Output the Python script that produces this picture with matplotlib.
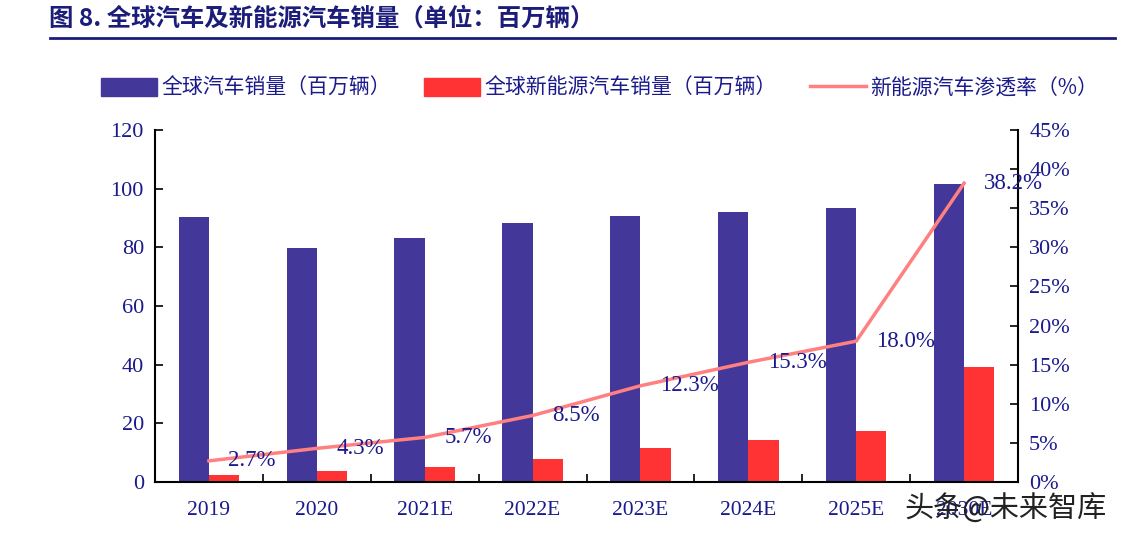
import matplotlib.pyplot as plt
from matplotlib.patches import Patch
from matplotlib.lines import Line2D

plt.rcParams['font.family'] = ['Liberation Serif', 'Noto Sans CJK SC', 'DejaVu Sans']

years = ["2019", "2020", "2021E", "2022E", "2023E", "2024E", "2025E", "2030E"]
total_sales = [90.3, 79.8, 83.2, 88.3, 90.7, 92.0, 93.4, 101.6]
nev_sales = [2.5, 3.7, 5.1, 7.8, 11.6, 14.3, 17.4, 39.2]
nev_rate = [2.7, 4.3, 5.7, 8.5, 12.3, 15.3, 18.0, 38.2]

BLUE = "#43379A"
RED = "#FF3333"
PINK = "#FF8080"
NAVY = "#1A1A8C"
CJK = ['Noto Sans CJK SC', 'DejaVu Sans']

fig = plt.figure(figsize=(11.29, 5.38), dpi=100)
ax = fig.add_axes([0.1373, 0.1041, 0.7644, 0.6543])
ax2 = ax.twinx()

x = list(range(len(years)))
w = 0.28
ax.bar([i - w / 2 for i in x], total_sales, width=w, color=BLUE, zorder=2)
ax.bar([i + w / 2 for i in x], nev_sales, width=w, color=RED, zorder=2)
ax2.plot(x, nev_rate, color=PINK, linewidth=2.5, zorder=3)
for i, v in zip(x, nev_rate):
    ax2.annotate(f"{v:.1f}%", (i, v), xytext=(14, 0), textcoords="offset points",
                 ha="left", va="center", fontsize=16.5, color=NAVY)

ax.set_xlim(-0.5, len(years) - 0.5)
ax.set_ylim(0, 120)
ax.set_yticks(range(0, 121, 20))
ax2.set_ylim(0, 45)
ax2.set_yticks(range(0, 46, 5))
ax2.set_yticklabels([f"{v}%" for v in range(0, 46, 5)])

ax.set_xticks(x)
ax.set_xticklabels(years)
ax.set_xticks([i + 0.5 for i in x[:-1]], minor=True)
ax.tick_params(axis="x", which="major", length=0, pad=14, labelsize=15.5, labelcolor=NAVY)
ax.tick_params(axis="x", which="minor", direction="in", length=6, width=1.2)
ax.tick_params(axis="y", direction="in", length=6, width=1.2, labelsize=16, labelcolor=NAVY, pad=8)
ax2.tick_params(axis="y", direction="in", length=6, width=1.2, labelsize=16, labelcolor=NAVY, pad=8)

for a in (ax, ax2):
    a.spines["top"].set_visible(False)
    for s in ("left", "right", "bottom"):
        a.spines[s].set_linewidth(1.5)
ax.spines["right"].set_visible(False)
ax2.spines["left"].set_visible(False)
ax2.spines["bottom"].set_visible(False)

handles = [Patch(color=BLUE), Patch(color=RED), Line2D([], [], color=PINK, linewidth=2.5)]
labels = ["全球汽车销量（百万辆）", "全球新能源汽车销量（百万辆）", "新能源汽车渗透率（%）"]
fig.legend(handles, labels, loc="center", bbox_to_anchor=(0.531, 0.836), ncol=3, frameon=False,
           prop={"family": CJK, "size": 15}, labelcolor=NAVY, handlelength=2.7, handleheight=1.0,
           handletextpad=0.2, columnspacing=1.6)

fig.text(0.043, 0.966, "图 8. 全球汽车及新能源汽车销量（单位：百万辆）", ha="left", va="center",
         fontsize=17.6, fontweight="bold", color="#1C1C7A", family=CJK)
fig.add_artist(Line2D([0.044, 0.988], [0.929, 0.929], color="#1C1C7A", linewidth=2))

fig.text(0.801, 0.052, "头条@未来智库", ha="left", va="center", fontsize=21, color="#222222",
         family=CJK)

fig.savefig("out.png", dpi=100)
